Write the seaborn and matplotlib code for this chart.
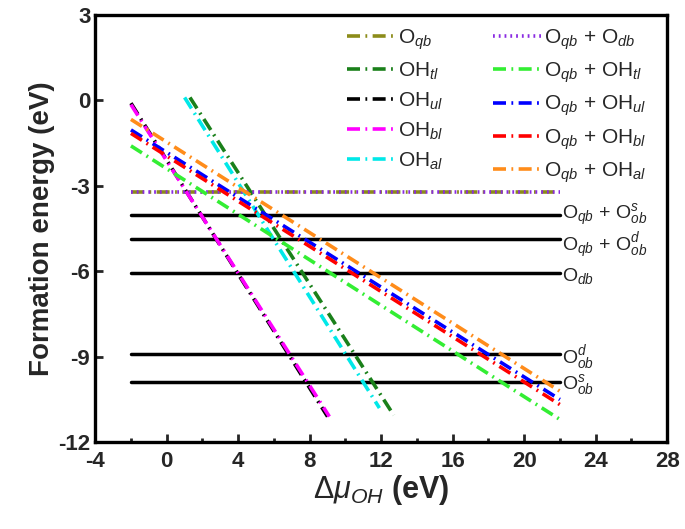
import numpy as np
import pandas as pd
import matplotlib
matplotlib.use("Agg")
import matplotlib.pyplot as plt
from matplotlib.ticker import MultipleLocator
import seaborn as sns

sns.set_style("white")
plt.rcParams["font.family"] = ["Liberation Sans", "DejaVu Sans"]
plt.rcParams["mathtext.fontset"] = "custom"
plt.rcParams["mathtext.rm"] = "Liberation Sans"
plt.rcParams["mathtext.it"] = "Liberation Sans:italic"
plt.rcParams["mathtext.bf"] = "Liberation Sans:bold"
plt.rcParams["axes.unicode_minus"] = False

# sloped / flat configurations shown in the legend (end points)
legend_labels = [
    r"O$_{qb}$", r"OH$_{tl}$", r"OH$_{ul}$", r"OH$_{bl}$", r"OH$_{al}$",
    r"O$_{qb}$ + O$_{db}$", r"O$_{qb}$ + OH$_{tl}$", r"O$_{qb}$ + OH$_{ul}$",
    r"O$_{qb}$ + OH$_{bl}$", r"O$_{qb}$ + OH$_{al}$",
]
x_start = [-2, 1.3, -2, -2, 1.0, -2, -2, -2, -2, -2]
x_end = [22, 12.7, 9.0, 9.1, 11.9, 22, 22, 22, 22, 22]
e_start = [-3.22, 0.1, -0.1, -0.15, 0.1, -3.22, -1.6, -1.04, -1.16, -0.67]
e_end = [-3.22, -11.05, -11.1, -11.1, -10.8, -3.22, -11.2, -10.5, -10.68, -10.21]
line_colors = ["#8c8c1a", "#1a801a", "#000000", "#ff00ff", "#00e8e8",
               "#8a2be2", "#33ee33", "#0000ff", "#ff0000", "#ff8c1a"]

# flat reference configurations labelled on the right
flat_labels = [r"O$_{qb}$ + O$^{s}_{ob}$", r"O$_{qb}$ + O$^{d}_{ob}$", r"O$_{db}$",
               r"O$^{d}_{ob}$", r"O$^{s}_{ob}$"]
flat_energy = [-4.02, -4.88, -6.06, -8.92, -9.88]
label_shift = [0.0, -0.22, -0.1, -0.1, -0.1]
flat_x = [-2, 22]

dashdot = (0, (3.6, 1.5, 0.5, 1.5))
dotted = (0, (0.5, 1.1))

fig, ax = plt.subplots(figsize=(6.85, 5.29), dpi=100)
fig.subplots_adjust(left=0.139, right=0.974, top=0.972, bottom=0.164)

for lab, e, d in zip(flat_labels, flat_energy, label_shift):
    sns.lineplot(x=flat_x, y=[e, e], ax=ax, color="black", lw=2.5, legend=False)
    ax.text(flat_x[1] + 0.1, e + d, lab, fontsize=14, va="center", ha="left")

handles = []
for i, lab in enumerate(legend_labels):
    df = pd.DataFrame({"mu": [x_start[i], x_end[i]], "E": [e_start[i], e_end[i]]})
    ls = dotted if i == 5 else dashdot
    sns.lineplot(data=df, x="mu", y="E", ax=ax, color=line_colors[i], lw=2.6,
                 linestyle=ls, legend=False)
    handles.append(ax.lines[-1])

ax.legend(handles, legend_labels, ncol=2, loc="upper right", frameon=False,
          fontsize=15, handlelength=2.3, handletextpad=0.15, columnspacing=2.4,
          labelspacing=0.42, bbox_to_anchor=(0.985, 1.0), borderaxespad=0.2)

ax.set_xlim(-4, 28)
ax.set_ylim(-12, 3)
ax.xaxis.set_major_locator(MultipleLocator(4))
ax.xaxis.set_minor_locator(MultipleLocator(2))
ax.yaxis.set_major_locator(MultipleLocator(3))
ax.tick_params(which="both", direction="in", top=False, right=False,
               bottom=True, left=True, width=2)
ax.tick_params(which="major", length=6, labelsize=16)
ax.tick_params(which="minor", length=3)
ax.tick_params(axis="x", pad=6)
for t in ax.get_xticklabels() + ax.get_yticklabels():
    t.set_fontweight("bold")
for s in ax.spines.values():
    s.set_linewidth(2.4)
    s.set_color("black")

ax.set_ylabel("Formation energy (eV)", fontsize=20, fontweight="bold", labelpad=2)
ax.set_xlabel(r"$\mathit{\Delta\mu}_{OH}$ (eV)", fontsize=22, fontweight="bold", labelpad=1)

fig.savefig("out.png", dpi=100)
